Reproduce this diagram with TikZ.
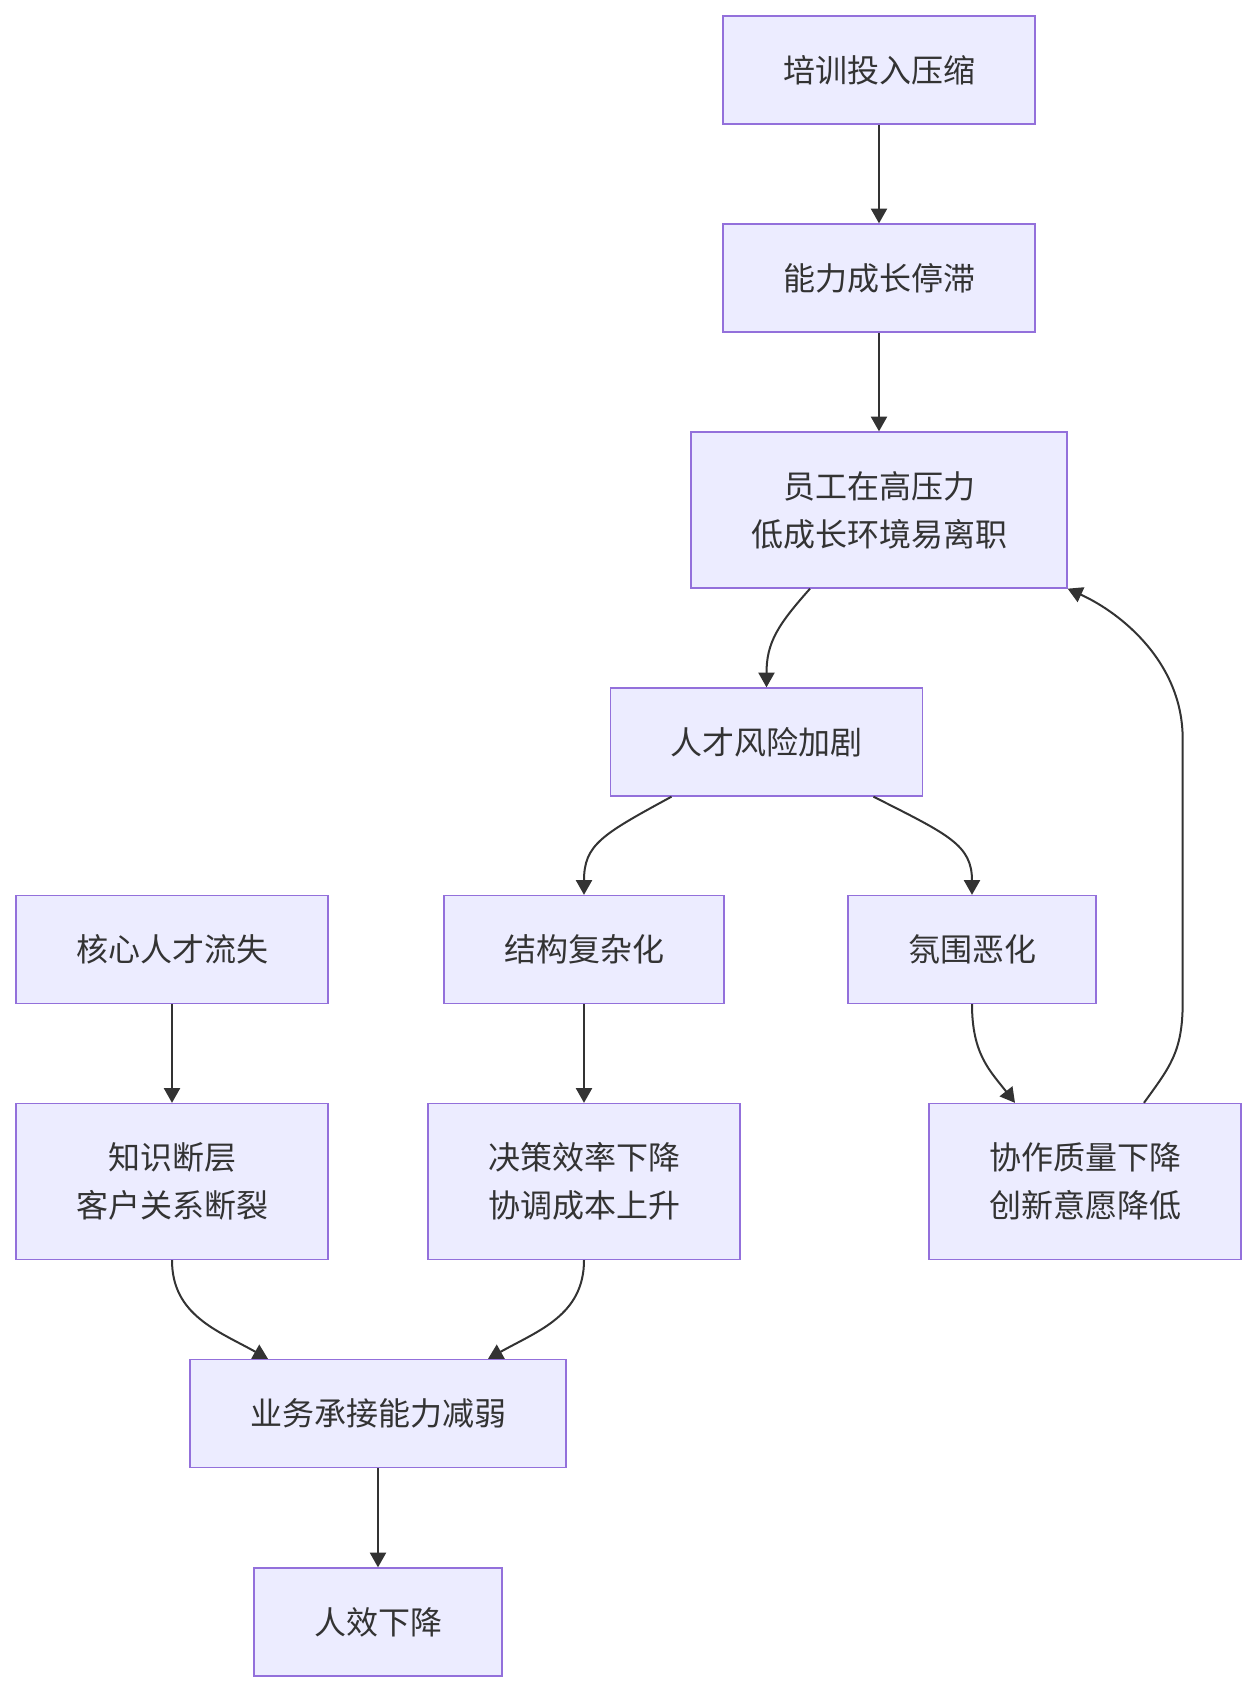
\documentclass[tikz,border=0pt]{standalone}
\usepackage{fontspec}
\newfontfamily\cjkfont{Noto Sans CJK SC}
\usetikzlibrary{arrows.meta,calc}
\definecolor{boxfill}{HTML}{ECECFF}
\definecolor{boxline}{HTML}{9370DB}
\definecolor{ink}{HTML}{333333}

\tikzset{every picture/.style={line width=0.75pt}}
\tikzset{
  flowbox/.style={draw=boxline, fill=boxfill, line width=1pt, text=ink,
    font=\cjkfont\fontsize{24}{36}\selectfont, align=center,
    inner xsep=45pt, inner ysep=0pt, minimum height=81pt},
  flowboxtall/.style={flowbox, minimum height=117pt},
  flowarrow/.style={draw=ink, line width=1.5pt, -{Triangle[length=11pt,width=12pt]}}
}

\begin{document}
\begin{tikzpicture}[x=0.75pt,y=0.75pt,yscale=-1,xscale=1]
\useasboundingbox (0,0) rectangle (1257,1692);

%Shape: Rectangle [id:train]
\node [flowbox] (train) at (879,70) {培训投入压缩};
%Shape: Rectangle [id:stall]
\node [flowbox] (stall) at (879,278) {能力成长停滞};
%Shape: Rectangle [id:leave]
\node [flowboxtall] (leave) at (879,510) {员工在高压力\\低成长环境易离职};
%Shape: Rectangle [id:risk]
\node [flowbox] (risk) at (766.5,742) {人才风险加剧};
%Shape: Rectangle [id:loss]
\node [flowbox] (loss) at (172,949.5) {核心人才流失};
%Shape: Rectangle [id:struct]
\node [flowbox] (struct) at (584,949.5) {结构复杂化};
%Shape: Rectangle [id:mood]
\node [flowbox] (mood) at (972,949.5) {氛围恶化};
%Shape: Rectangle [id:gap]
\node [flowboxtall] (gap) at (172,1181.5) {知识断层\\客户关系断裂};
%Shape: Rectangle [id:decide]
\node [flowboxtall] (decide) at (584,1181.5) {决策效率下降\\协调成本上升};
%Shape: Rectangle [id:coop]
\node [flowboxtall] (coop) at (1085,1181.5) {协作质量下降\\创新意愿降低};
%Shape: Rectangle [id:carry]
\node [flowbox] (carry) at (378,1413.5) {业务承接能力减弱};
%Shape: Rectangle [id:eff]
\node [flowbox] (eff) at (378,1622) {人效下降};

%Straight Lines
\draw [flowarrow] (train) -- (stall);
\draw [flowarrow] (stall) -- (leave);
\draw [flowarrow] (loss) -- (gap);
\draw [flowarrow] (struct) -- (decide);
\draw [flowarrow] (carry) -- (eff);
%Curve Lines
\draw [flowarrow] ($(leave.south)+(-69,0)$) .. controls +(-32,36) and +(0,-45) .. (risk.north);
\draw [flowarrow] ($(risk.south)+(-95,0)$) .. controls +(-70,38) and +(0,-50) .. (struct.north);
\draw [flowarrow] ($(risk.south)+(107,0)$) .. controls +(75,38) and +(0,-50) .. (mood.north);
\draw [flowarrow] (mood.south) .. controls +(0,50) and +(-25,-32) .. ($(coop.north)+(-70,0)$);
\draw [flowarrow] ($(coop.north)+(59,0)$) .. controls +(25,-35) and +(0,50) .. ($(coop.north east)+(-59,-100)$)
  -- ($(leave.south east)+(115,150)$) .. controls +(0,-75) and +(55,25) .. (leave.south east);
\draw [flowarrow] (gap.south) .. controls +(0,55) and +(-50,-28) .. ($(carry.north)+(-110,0)$);
\draw [flowarrow] (decide.south) .. controls +(0,55) and +(50,-28) .. ($(carry.north)+(110,0)$);

\end{tikzpicture}
\end{document}
